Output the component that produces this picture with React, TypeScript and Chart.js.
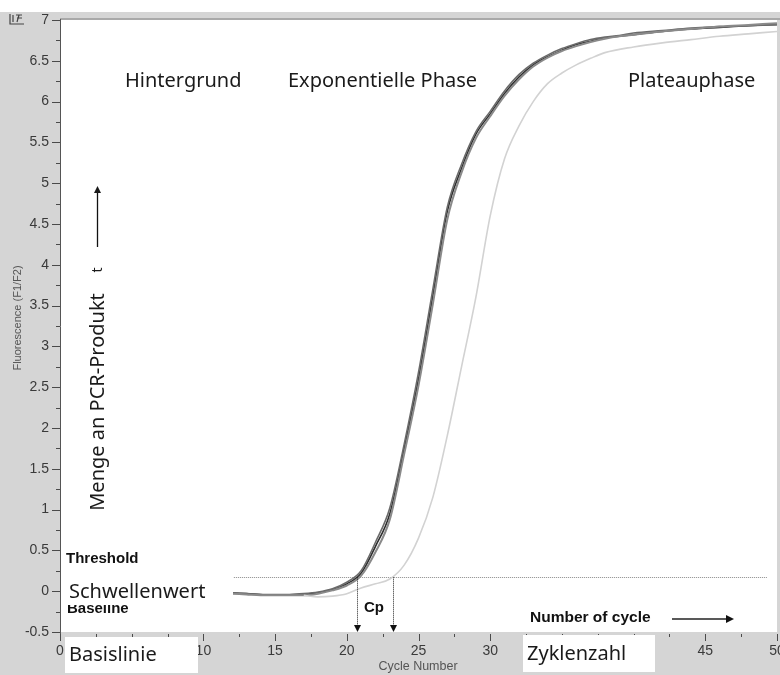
import React, { useEffect, useRef } from "react";
import { Chart, registerables } from "chart.js";
Chart.register(...registerables);

// ---- data ----
const darkCycles = [12, 13, 14, 15, 16, 17, 18, 19, 20, 21, 22, 23, 24, 25, 26, 27, 28, 29, 30, 31, 32, 33, 34, 35, 36, 37, 38, 39, 40, 42, 44, 46, 48, 50];
const sampleA = [-0.02, -0.03, -0.04, -0.05, -0.05, -0.04, -0.02, 0.02, 0.09, 0.22, 0.55, 0.95, 1.75, 2.6, 3.62, 4.65, 5.18, 5.6, 5.85, 6.1, 6.3, 6.45, 6.55, 6.63, 6.7, 6.74, 6.78, 6.8, 6.82, 6.86, 6.89, 6.91, 6.93, 6.95];
const sampleB = [-0.03, -0.04, -0.05, -0.05, -0.05, -0.05, -0.03, 0.01, 0.07, 0.19, 0.48, 0.88, 1.68, 2.52, 3.52, 4.55, 5.13, 5.55, 5.82, 6.07, 6.27, 6.43, 6.54, 6.62, 6.68, 6.73, 6.77, 6.8, 6.82, 6.86, 6.89, 6.92, 6.94, 6.96];
const sampleC = [-0.02, -0.03, -0.04, -0.04, -0.04, -0.03, -0.01, 0.03, 0.11, 0.25, 0.6, 1.02, 1.8, 2.68, 3.7, 4.7, 5.23, 5.63, 5.88, 6.13, 6.33, 6.47, 6.57, 6.65, 6.71, 6.76, 6.79, 6.81, 6.84, 6.87, 6.9, 6.92, 6.93, 6.94];
const lightCycles = [17, 18, 19, 20, 21, 22, 23, 24, 25, 26, 27, 28, 29, 30, 31, 32, 33, 34, 35, 36, 37, 38, 40, 42, 44, 46, 48, 50];
const sampleD = [-0.05, -0.07, -0.06, -0.03, 0.04, 0.09, 0.15, 0.32, 0.65, 1.15, 1.9, 2.75, 3.6, 4.6, 5.3, 5.7, 6.0, 6.22, 6.35, 6.45, 6.53, 6.6, 6.67, 6.72, 6.76, 6.8, 6.83, 6.86];
const thresholdValue = 0.17;
const thresholdEnd = 49.3;
const cpValues = [20.7, 23.2];

const phaseLabels = ["Hintergrund", "Exponentielle Phase", "Plateauphase"];
const yAxisTitle = "Fluorescence (F1/F2)";
const xAxisTitle = "Cycle Number";

const SANS = '"Noto Sans", "Open Sans", sans-serif';
const ARIAL = '"Liberation Sans", Arial, sans-serif';

function pts(xs: number[], ys: number[]) {
  return xs.map((x, i) => ({ x, y: ys[i] }));
}

function arrowHead(ctx: CanvasRenderingContext2D, x: number, y: number, dir: "up" | "down" | "right", size = 6) {
  ctx.beginPath();
  if (dir === "down") {
    ctx.moveTo(x, y);
    ctx.lineTo(x - size / 2, y - size);
    ctx.lineTo(x + size / 2, y - size);
  } else if (dir === "up") {
    ctx.moveTo(x, y);
    ctx.lineTo(x - size / 2, y + size);
    ctx.lineTo(x + size / 2, y + size);
  } else {
    ctx.moveTo(x, y);
    ctx.lineTo(x - size, y - size / 2);
    ctx.lineTo(x - size, y + size / 2);
  }
  ctx.closePath();
  ctx.fill();
}

export default function App() {
  const ref = useRef<HTMLCanvasElement>(null);

  useEffect(() => {
    document.body.style.margin = "0";
    const canvas = ref.current!;
    const decor = {
      id: "decor",
      beforeDraw(chart: any) {
        const { ctx, chartArea: a, width, height } = chart;
        ctx.save();
        ctx.fillStyle = "#ffffff";
        ctx.fillRect(0, 0, width, height);
        ctx.fillStyle = "#d5d5d5";
        ctx.fillRect(0, 12, width, height - 12);
        ctx.fillStyle = "#ffffff";
        ctx.fillRect(a.left, a.top, a.right - a.left, a.bottom - a.top);
        ctx.fillStyle = "#a9a9a9";
        ctx.fillRect(a.left, a.top - 2, width - a.left, 2);
        ctx.strokeStyle = "#555";
        ctx.lineWidth = 1;
        ctx.beginPath();
        ctx.moveTo(a.left + 0.5, a.top - 1);
        ctx.lineTo(a.left + 0.5, a.bottom + 2);
        ctx.stroke();
        ctx.restore();
      },
      beforeDatasetsDraw(chart: any) {
        const { ctx, scales } = chart;
        const y = Math.round(scales.y.getPixelForValue(thresholdValue)) + 0.5;
        ctx.save();
        ctx.strokeStyle = "#8a8a8a";
        ctx.setLineDash([1, 1]);
        ctx.lineWidth = 1;
        ctx.beginPath();
        ctx.moveTo(scales.x.getPixelForValue(0.15), y);
        ctx.lineTo(scales.x.getPixelForValue(thresholdEnd), y);
        ctx.stroke();
        ctx.restore();
      },
      afterDraw(chart: any) {
        const { ctx, chartArea: a, scales } = chart;
        const xs = scales.x, ys = scales.y;
        ctx.save();
        // ticks
        ctx.strokeStyle = "#4a4a4a";
        ctx.lineWidth = 1;
        for (let v = -0.5; v <= 7.001; v += 0.25) {
          const py = Math.round(ys.getPixelForValue(v)) + 0.5;
          const major = Math.abs(v * 2 - Math.round(v * 2)) < 1e-6;
          ctx.beginPath();
          ctx.moveTo(a.left - (major ? 8 : 4), py);
          ctx.lineTo(a.left, py);
          ctx.stroke();
        }
        for (let v = 0; v <= 50.001; v += 2.5) {
          const px = Math.round(xs.getPixelForValue(v)) + 0.5;
          const major = Math.abs(v / 5 - Math.round(v / 5)) < 1e-6;
          ctx.beginPath();
          ctx.moveTo(px, a.bottom + 2);
          ctx.lineTo(px, a.bottom + (major ? 9 : 5));
          ctx.stroke();
        }

        // Baseline (partly covered)
        ctx.fillStyle = "#111";
        ctx.font = `bold 15px ${ARIAL}`;
        ctx.textBaseline = "middle";
        ctx.textAlign = "left";
        ctx.fillText("Baseline", 67, 609);

        // Schwellenwert box
        ctx.fillStyle = "#ffffff";
        ctx.fillRect(62, 577, 171, 28);
        ctx.fillStyle = "#1a1a1a";
        ctx.font = `20px ${SANS}`;
        ctx.fillText("Schwellenwert", 69, 592);

        // Threshold label
        ctx.font = `bold 15px ${ARIAL}`;
        ctx.fillStyle = "#111";
        ctx.fillText("Threshold", 66, 559);

        // Cp arrows
        const yThr = ys.getPixelForValue(thresholdValue);
        ctx.strokeStyle = "#222";
        ctx.fillStyle = "#111";
        ctx.setLineDash([1, 1]);
        for (const c of cpValues) {
          const px = Math.round(xs.getPixelForValue(c)) + 0.5;
          ctx.beginPath();
          ctx.moveTo(px, yThr);
          ctx.lineTo(px, a.bottom - 6);
          ctx.stroke();
        }
        ctx.setLineDash([]);
        for (const c of cpValues) {
          const px = Math.round(xs.getPixelForValue(c)) + 0.5;
          arrowHead(ctx, px, a.bottom, "down", 7);
        }
        ctx.font = `bold 15px ${ARIAL}`;
        ctx.fillText("Cp", 364, 608);

        // Number of cycle
        ctx.font = `bold 15.5px ${ARIAL}`;
        ctx.fillText("Number of cycle", 530, 618);
        ctx.lineWidth = 1.5;
        ctx.beginPath();
        ctx.moveTo(672, 619);
        ctx.lineTo(728, 619);
        ctx.stroke();
        arrowHead(ctx, 734, 619, "right", 8);

        // bottom boxes
        ctx.fillStyle = "#ffffff";
        ctx.fillRect(65, 637, 133, 36);
        ctx.fillRect(523, 635, 132, 37);
        ctx.fillStyle = "#1a1a1a";
        ctx.font = `20px ${SANS}`;
        ctx.fillText("Basislinie", 69, 655);
        ctx.fillText("Zyklenzahl", 527, 654);

        // phase labels
        ctx.fillText(phaseLabels[0], 125, 81);
        ctx.fillText(phaseLabels[1], 288, 81);
        ctx.fillText(phaseLabels[2], 628, 81);

        // vertical label
        ctx.save();
        ctx.translate(98, 402);
        ctx.rotate(-Math.PI / 2);
        ctx.textAlign = "center";
        ctx.fillText("Menge an PCR-Produkt", 0, 0);
        ctx.font = `14px ${SANS}`;
        ctx.fillText("t", 132, 0);
        ctx.restore();
        ctx.strokeStyle = "#111";
        ctx.lineWidth = 1.3;
        ctx.beginPath();
        ctx.moveTo(97.5, 247);
        ctx.lineTo(97.5, 192);
        ctx.stroke();
        arrowHead(ctx, 97.5, 186, "up", 7);

        // axis titles
        ctx.fillStyle = "#555";
        ctx.font = `11px ${ARIAL}`;
        ctx.save();
        ctx.translate(18, 318);
        ctx.rotate(-Math.PI / 2);
        ctx.textAlign = "center";
        ctx.fillText(yAxisTitle, 0, 0);
        ctx.restore();
        ctx.textAlign = "center";
        ctx.font = `12.5px ${ARIAL}`;
        ctx.fillText(xAxisTitle, 418, 667);

        // small icon
        ctx.strokeStyle = "#444";
        ctx.lineWidth = 1.2;
        ctx.beginPath();
        ctx.moveTo(10, 14); ctx.lineTo(10, 24); ctx.lineTo(24, 24);
        ctx.moveTo(13, 15); ctx.lineTo(13, 22);
        ctx.moveTo(16, 15); ctx.lineTo(22, 15);
        ctx.moveTo(17, 18); ctx.lineTo(22, 18);
        ctx.moveTo(19, 15); ctx.lineTo(17, 22);
        ctx.stroke();
        ctx.restore();
      },
    };

    const common = { pointRadius: 0, fill: false, cubicInterpolationMode: "monotone" as const };
    const chart = new Chart(canvas, {
      type: "line",
      data: {
        datasets: [
          { ...common, data: pts(lightCycles, sampleD), borderColor: "#d2d2d2", borderWidth: 1.6 },
          { ...common, data: pts(darkCycles, sampleB), borderColor: "#8a8a8a", borderWidth: 2 },
          { ...common, data: pts(darkCycles, sampleC), borderColor: "#6a6a6a", borderWidth: 1.6 },
          { ...common, data: pts(darkCycles, sampleA), borderColor: "#2e2e2e", borderWidth: 1.6 },
        ],
      },
      options: {
        animation: false,
        responsive: false,
        devicePixelRatio: 1,
        parsing: false as any,
        layout: { padding: { top: 20, right: 3, left: 0, bottom: 0 } },
        plugins: { legend: { display: false }, tooltip: { enabled: false }, title: { display: false } },
        scales: {
          x: {
            type: "linear",
            min: 0,
            max: 50,
            grid: { display: false, drawTicks: false },
            border: { display: false },
            ticks: { stepSize: 5, padding: 11, maxRotation: 0, autoSkip: false, color: "#3a3a3a", font: { family: ARIAL, size: 14 }, callback: (v: any) => `${Number(v)}` },
            afterFit: (s: any) => { s.height = 43; s.paddingLeft = 0; s.paddingRight = 0; },
          },
          y: {
            type: "linear",
            min: -0.5,
            max: 7,
            grid: { display: false, drawTicks: false },
            border: { display: false },
            ticks: { stepSize: 0.5, padding: 11, autoSkip: false, color: "#3a3a3a", font: { family: ARIAL, size: 14 }, callback: (v: any) => `${Math.round(Number(v) * 100) / 100}` },
            afterFit: (s: any) => { s.width = 60; s.paddingTop = 0; s.paddingBottom = 0; },
          },
        },
      },
      plugins: [decor],
    });
    return () => chart.destroy();
  }, []);

  return (
    <div style={{ position: "absolute", left: 0, top: 0, width: 780, height: 675 }}>
      <canvas ref={ref} width={780} height={675} style={{ display: "block", width: 780, height: 675 }} />
    </div>
  );
}
